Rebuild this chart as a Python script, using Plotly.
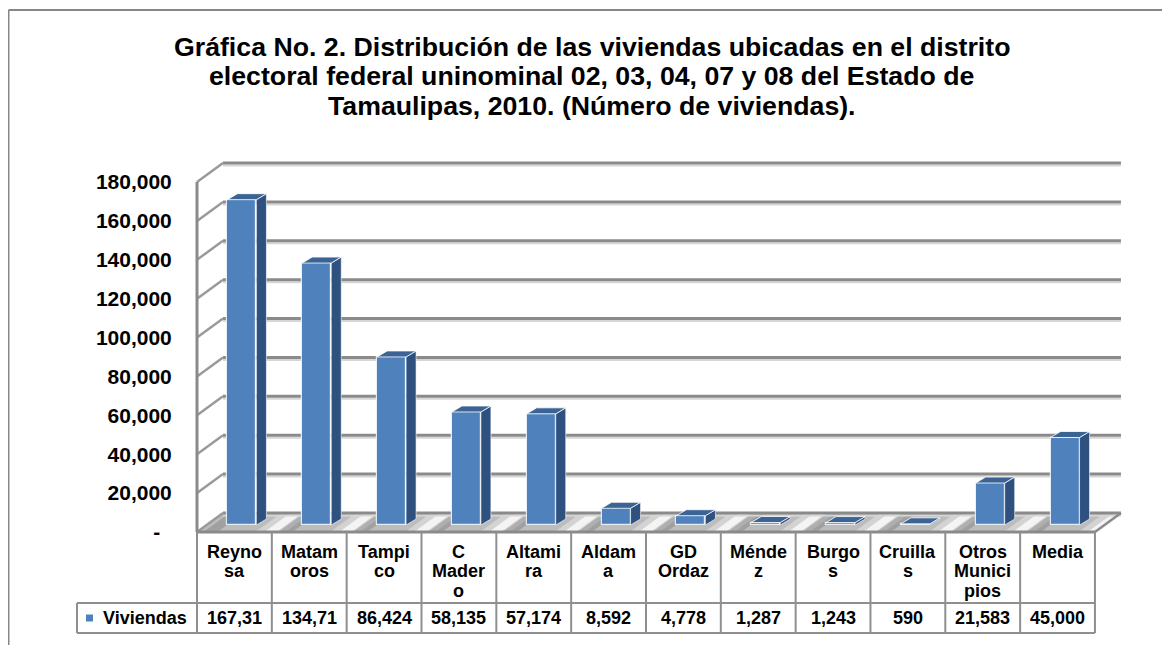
import plotly.graph_objects as go

# ---------------- data ----------------
categories = ["Reyno<br>sa", "Matam<br>oros", "Tampi<br>co", "C<br>Mader<br>o", "Altami<br>ra",
              "Aldam<br>a", "GD<br>Ordaz", "Ménde<br>z", "Burgo<br>s", "Cruilla<br>s",
              "Otros<br>Munici<br>pios", "Media"]
viviendas = [167310, 134710, 86424, 58135, 57174, 8592, 4778, 1287, 1243, 590, 21583, 45000]
y_ticks = [0, 20000, 40000, 60000, 80000, 100000, 120000, 140000, 160000, 180000]
series_name = "Viviendas"
title_lines = ["Gráfica No. 2. Distribución de las viviendas ubicadas en el distrito",
               "electoral federal uninominal 02, 03, 04, 07 y 08 del Estado de",
               "Tamaulipas, 2010. (Número de viviendas)."]

# ---------------- geometry (screen pixels) ----------------
FW, FH = 1170, 645
OFF = 8                             # page body margin
COL0, COLW = 197.0, 74.83           # left edge of first category column, column width
FLOOR_Y = 532.0                     # pixel of value 0 on the front plane
PX_PER_UNIT = 350.0 / 180000.0
PL, PR, PT, PB = 188.0, 1126.0, 158.0, 538.0   # plot area
FONT = "Liberation Sans, Arial, sans-serif"

def xd(px): return -0.5 + (px - COL0) / COLW
def yd(py): return (FLOOR_Y - py) / PX_PER_UNIT
def dx(px): return px / COLW
def dy(px): return px / PX_PER_UNIT
def xp(px): return (px - PL) / (PR - PL)
def yp(py): return (PB - py) / (PB - PT)

n = len(categories)
xs = list(range(n))
BACK_DX, BACK_DY = 26, 19
BAR_SHIFT_X, BAR_SHIFT_Y = 7.5, 7
BAR_W = 29
BAR_DX, BAR_DY = 10, 6

FRONT = "#4F81BD"
SIDE = "#2E5180"
TOP = "#3B6393"
GRID = "#8a8a8a"

fig = go.Figure()

# front faces (bars)
bar_x = [i + dx(BAR_SHIFT_X) for i in xs]
fig.add_trace(go.Bar(
    x=bar_x, y=viviendas, base=dy(BAR_SHIFT_Y), width=dx(BAR_W),
    marker=dict(color=FRONT, line=dict(color="rgba(255,255,255,0.8)", width=1.2)),
    name=series_name, showlegend=False, hoverinfo="skip"))

# side and top faces
sx, sy, tx, ty = [], [], [], []
b = dy(BAR_SHIFT_Y)
for xc, v in zip(bar_x, viviendas):
    xl = xc - dx(BAR_W) / 2
    xr = xc + dx(BAR_W) / 2
    sx += [xr, xr + dx(BAR_DX), xr + dx(BAR_DX), xr, xr, None]
    sy += [b, b + dy(BAR_DY), b + v + dy(BAR_DY), b + v, b, None]
    tx += [xl, xr, xr + dx(BAR_DX), xl + dx(BAR_DX), xl, None]
    ty += [b + v, b + v, b + v + dy(BAR_DY), b + v + dy(BAR_DY), b + v, None]
fig.add_trace(go.Scatter(x=sx, y=sy, mode="lines", fill="toself", fillcolor=SIDE,
                         line=dict(color="rgba(255,255,255,0.6)", width=1),
                         showlegend=False, hoverinfo="skip"))
fig.add_trace(go.Scatter(x=tx, y=ty, mode="lines", fill="toself", fillcolor=TOP,
                         line=dict(color="rgba(255,255,255,0.8)", width=1),
                         showlegend=False, hoverinfo="skip"))

shapes = []
# floor
x_front_l, x_front_r = -0.5, n - 0.5
x_back_l = x_front_l + dx(BACK_DX)
x_back_r = x_front_r + dx(BACK_DX)

def band(xc_front, w_px, color):
    x0 = max(x_front_l, xc_front - dx(w_px) / 2)
    x1 = min(x_front_r, xc_front + dx(w_px) / 2)
    if x1 <= x0:
        return None
    p = (f"M {x0},0 L {x1},0 L {x1 + dx(BACK_DX)},{dy(BACK_DY)} "
         f"L {x0 + dx(BACK_DX)},{dy(BACK_DY)} Z")
    return dict(type="path", path=p, xref="x", yref="y", layer="below",
                fillcolor=color, line=dict(width=0))

floor_path = (f"M {x_front_l},0 L {x_front_r},0 L {x_back_r},{dy(BACK_DY)} "
              f"L {x_back_l},{dy(BACK_DY)} Z")
shapes.append(dict(type="path", path=floor_path, xref="x", yref="y", layer="below",
                   fillcolor="#bcbcbc", line=dict(width=0)))
for i in xs:
    for s in (band(i - dx(24), 14, "rgba(110,110,110,0.35)"),
              band(i + dx(36), 30, "rgba(255,255,255,0.35)"),
              band(i + dx(36), 12, "rgba(255,255,255,0.75)")):
        if s:
            shapes.append(s)

# back wall gridlines + left wall
for v in y_ticks:
    shapes.append(dict(type="line", xref="x", yref="y", layer="below",
                       x0=x_back_l, x1=x_back_r, y0=v + dy(BACK_DY - 2.5), y1=v + dy(BACK_DY - 2.5),
                       line=dict(color="#d6d6d6", width=2)))
    shapes.append(dict(type="line", xref="x", yref="y", layer="below",
                       x0=x_back_l, x1=x_back_r, y0=v + dy(BACK_DY), y1=v + dy(BACK_DY),
                       line=dict(color=GRID, width=3)))
    shapes.append(dict(type="line", xref="x", yref="y", layer="below",
                       x0=x_front_l, x1=x_back_l, y0=v, y1=v + dy(BACK_DY),
                       line=dict(color="#9a9a9a", width=2.5)))
shapes.append(dict(type="line", xref="x", yref="y", layer="below",
                   x0=x_front_l, x1=x_front_l, y0=0, y1=y_ticks[-1],
                   line=dict(color=GRID, width=3)))
# floor front & right edges
shapes.append(dict(type="line", xref="x", yref="y", layer="below",
                   x0=x_front_l, x1=x_front_r, y0=0, y1=0, line=dict(color=GRID, width=3)))
shapes.append(dict(type="line", xref="x", yref="y", layer="below",
                   x0=x_front_r, x1=x_back_r, y0=0, y1=dy(BACK_DY), line=dict(color=GRID, width=2.5)))

# outer chart border
BORDER = "#878787"
shapes.append(dict(type="line", xref="paper", yref="paper", x0=xp(8.5), x1=xp(1180), y0=yp(10), y1=yp(10),
                   line=dict(color=BORDER, width=2)))
shapes.append(dict(type="line", xref="paper", yref="paper", x0=xp(8.5), x1=xp(8.5), y0=yp(10), y1=yp(660),
                   line=dict(color=BORDER, width=2)))

# data table
TBL = "#8f8f8f"
ROW1_B, ROW2_B = 603.0, 633.0
LEG_L = 77.0
right_px = COL0 + n * COLW
for py in (ROW1_B, ROW2_B):
    shapes.append(dict(type="line", xref="paper", yref="paper", x0=xp(LEG_L), x1=xp(right_px),
                       y0=yp(py), y1=yp(py), line=dict(color=TBL, width=2)))
for k in range(n + 1):
    px = COL0 + k * COLW
    shapes.append(dict(type="line", xref="paper", yref="paper", x0=xp(px), x1=xp(px),
                       y0=yp(FLOOR_Y), y1=yp(ROW2_B), line=dict(color=TBL, width=2)))
shapes.append(dict(type="line", xref="paper", yref="paper", x0=xp(LEG_L), x1=xp(LEG_L),
                   y0=yp(ROW1_B), y1=yp(ROW2_B), line=dict(color=TBL, width=2)))
# legend key
shapes.append(dict(type="rect", xref="paper", yref="paper", x0=xp(86), x1=xp(93),
                   y0=yp(621.5), y1=yp(614.5), fillcolor=FRONT, line=dict(width=0)))

annotations = []
TFONT = dict(family=FONT, size=18, color="black", weight="bold")
LINE_STEP = 19.5
for i, lab in enumerate(categories):
    for j, part in enumerate(lab.split("<br>")):
        annotations.append(dict(x=i, xref="x", y=yp(551.5 + LINE_STEP * j), yref="paper", text=part,
                                showarrow=False, xanchor="center", yanchor="middle", font=TFONT))
    annotations.append(dict(x=i, xref="x", y=yp((ROW1_B + ROW2_B) / 2), yref="paper",
                            text=f"{viviendas[i]:,}"[:6], showarrow=False,
                            xanchor="center", yanchor="middle", font=TFONT))
annotations.append(dict(x=xp(101), xref="paper", y=yp((ROW1_B + ROW2_B) / 2), yref="paper",
                        text=series_name, showarrow=False, xanchor="left", yanchor="middle",
                        font=TFONT))
# title lines
for j, line in enumerate(title_lines):
    annotations.append(dict(x=xp(591.5), xref="paper", y=yp(47 + 29.5 * j), yref="paper", text=line,
                            showarrow=False, xanchor="center", yanchor="middle",
                            font=dict(family=FONT, size=26.7, color="black", weight="bold")))

ticktext = ["-\u00a0\u00a0"] + [f"{v:,}" for v in y_ticks[1:]]

fig.update_layout(
    width=FW, height=FH, autosize=False,
    margin=dict(l=PL - OFF, r=FW - (PR - OFF), t=PT - OFF, b=FH - (PB - OFF), pad=0),
    paper_bgcolor="white", plot_bgcolor="white",
    xaxis=dict(range=[xd(PL), xd(PR)], visible=False, fixedrange=True),
    yaxis=dict(range=[yd(PB), yd(PT)], tickvals=y_ticks, ticktext=ticktext,
               showgrid=False, zeroline=False, showline=False,
               ticks="outside", ticklen=11, tickcolor="rgba(0,0,0,0)",
               tickfont=dict(family=FONT, size=21, color="black", weight="bold")),
    shapes=shapes, annotations=annotations, showlegend=False, bargap=0,
)

fig.write_html("out.html")
